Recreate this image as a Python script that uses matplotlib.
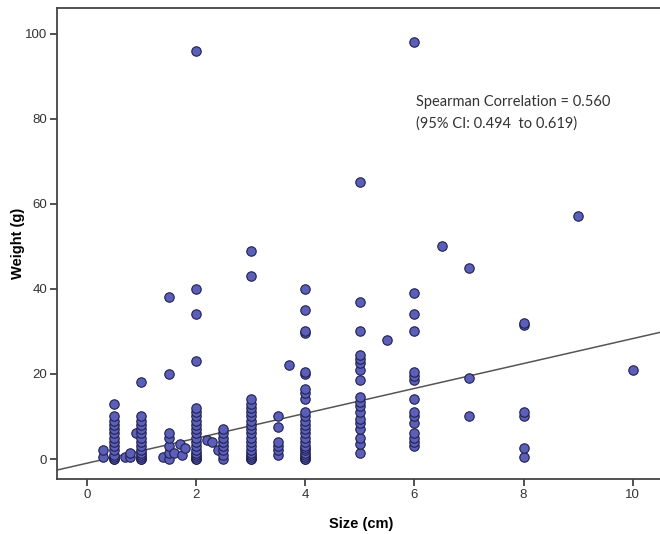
import numpy as np
import matplotlib.pyplot as plt

# sizes (cm) at which weights were recorded, and the weights (g) at each size
column_sizes = [0.3, 0.5, 0.7, 0.8, 0.9, 1.0, 1.4, 1.5, 1.6, 1.7, 1.75, 1.8,
                2.0, 2.2, 2.3, 2.4, 2.5, 3.0, 3.5, 3.7, 4.0, 5.0, 5.5, 6.0,
                6.5, 7.0, 8.0, 9.0, 10.0]
column_weights = [
    [0.5, 2],
    [0, 0, 0.5, 1, 2, 3, 4, 5, 6, 7, 8, 9, 10, 13],
    [0.5],
    [0.5, 1.5],
    [6],
    [0, 0, 0.5, 1, 1.5, 2, 3, 4, 5, 6, 7, 8, 9, 10, 18],
    [0.5],
    [0, 1.5, 3, 5, 6, 20, 38],
    [1.5],
    [3.5],
    [1],
    [2.5],
    [0, 0, 0.5, 1, 1.5, 2, 3, 4, 5, 6, 7, 8, 9, 10, 11, 12, 23, 34, 40, 96],
    [4.5],
    [4],
    [2],
    [0, 1, 2, 3, 4, 5, 6, 7],
    [0, 0, 0.5, 1, 1.5, 2, 3, 4, 5, 6, 7, 8, 9, 10, 11, 12, 13, 14, 43, 49],
    [1, 2, 3, 4, 7.5, 10],
    [22],
    [0, 0, 0.5, 1, 1.5, 2, 2.5, 3, 4, 5, 6, 7, 8, 9, 10, 11, 14, 15.5, 16.5,
     20, 20.5, 29.5, 30, 35, 40],
    [1.5, 3.5, 5, 7, 8.5, 9.5, 11, 12.5, 13.5, 14.5, 18.5, 21, 22.5, 23.5,
     24.5, 30, 37, 65],
    [28],
    [3, 4, 5, 6, 8.5, 10, 11, 14, 18.5, 19.5, 20.5, 30, 34, 39, 98],
    [50],
    [10, 19, 45],
    [0.5, 2.5, 10, 11, 31.5, 32],
    [57],
    [21],
]
# fit line as shown in the reference (weight = intercept + slope * size)
fit_intercept = -1.0
fit_slope = 2.93

x_ticks = [0, 2, 4, 6, 8, 10]
y_ticks = [0, 20, 40, 60, 80, 100]
note = "Spearman Correlation = 0.560\n(95% CI: 0.494  to 0.619)"

size_cm = np.concatenate([[s] * len(w) for s, w in zip(column_sizes, column_weights)])
weight_g = np.concatenate(column_weights)

fig = plt.figure(figsize=(6.6, 5.34), dpi=100)
ax = fig.add_axes([0.086, 0.103, 0.914, 0.882])

ax.scatter(size_cm, weight_g, s=46, facecolor='#5b5fb8', edgecolor='#202050',
           linewidth=0.8, zorder=3)

ax.axline((0, fit_intercept), slope=fit_slope, color='#555555',
          linewidth=1.1, zorder=2)

ax.set_xlim(-0.55, 10.5)
ax.set_ylim(-4.7, 106)
ax.set_xticks(x_ticks)
ax.set_yticks(y_ticks)
ax.tick_params(labelsize=9.5, labelcolor='#333333', color='#333333',
               length=5, width=1.2, direction='out', pad=2)
for side in ['left', 'bottom', 'top']:
    ax.spines[side].set_color('#444444')
    ax.spines[side].set_linewidth(1.3)
ax.spines['right'].set_visible(False)

ax.set_xlabel('Size (cm)', fontsize=10.5, fontweight='bold',
              family='Liberation Sans')
ax.set_ylabel('Weight (g)', fontsize=10.5, fontweight='bold',
              family='Liberation Sans')
ax.xaxis.set_label_coords(0.505, -0.08)
ax.yaxis.set_label_coords(-0.053, 0.5)
for lbl in ax.get_xticklabels() + ax.get_yticklabels():
    lbl.set_family('Liberation Sans')

ax.text(6.03, 81.3, note, fontsize=10.5, color='#333333', family='Lato',
        va='center', ha='left', linespacing=1.65)

fig.savefig('out.png', dpi=100)
